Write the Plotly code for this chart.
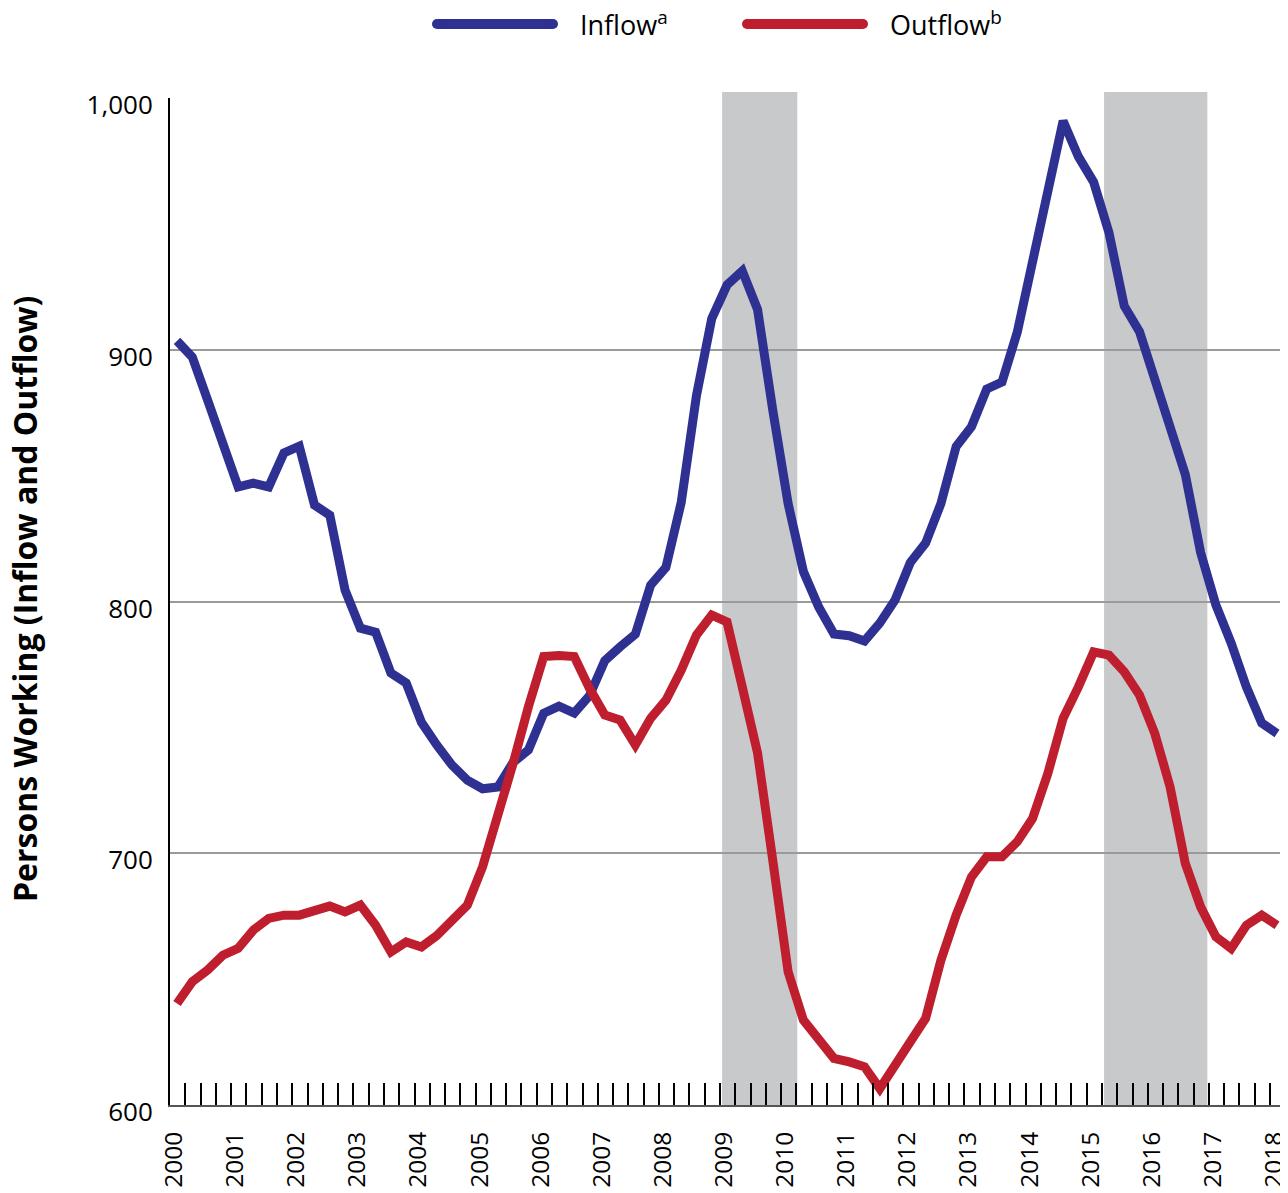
import plotly.graph_objects as go

# Quarterly observations, 2000 Q1 .. 2018 Q1
start_year = 2000
step = 0.25
inflow = [903.5, 897.1, 880, 863, 845.5, 847, 845.5, 859, 861.7, 838.3, 834.3, 804.5, 789.4, 787.8,
          771.6, 767.6, 752, 743, 735, 729, 725.6, 726.3, 736.1, 741, 755.6, 758.4, 755.7, 762.6,
          776.5, 782, 787, 806.5, 813.5, 839.3, 881.8, 912.4, 925.7, 931.3, 916, 875.8, 838.9,
          811.9, 797.8, 787.1, 786.4, 784.3, 791.4, 800.6, 815.5, 823.2, 838.9, 861.6, 869.4,
          884.4, 887.2, 907, 934, 961, 990.9, 976.7, 966.6, 946.5, 917.4, 907.2, 888, 869.5,
          850.4, 819.5, 798.6, 783.5, 766, 751.7, 747.6]
outflow = [640.3, 649, 653.6, 659.5, 662.2, 669.5, 674.1, 675.4, 675.4, 677.3, 679, 676.7, 679.4,
           671.4, 660.8, 664.8, 662.8, 667.3, 673.4, 679.4, 694.6, 714.5, 735.7, 758.2, 778.1,
           778.5, 778.1, 765.5, 754.9, 752.9, 743, 753.6, 760.8, 772.7, 786.7, 794.6, 791.9, 766,
           739.8, 697, 652.9, 633.7, 625.7, 618.5, 617.1, 615.2, 606.5, 615.2, 625.1, 634.4,
           657.5, 675.4, 690.6, 698.6, 698.6, 704.6, 713.8, 731.7, 753.6, 766.1, 780, 778.7,
           772.1, 762.8, 747.6, 726.4, 695.9, 678.7, 666.8, 662.2, 671.4, 675.4, 671.4]
x_vals = [start_year + step * i for i in range(len(inflow))]

year_ticks = list(range(2000, 2019))
y_ticks = [600, 700, 800, 900, 1000]
recessions = [(2008.92, 2010.15), (2015.17, 2016.86)]
series_names = ["Inflow<sup>a</sup>", "Outflow<sup>b</sup>"]
colors = ["#2e3192", "#be1e2d"]

X_RANGE = [1999.885, 2018.18]
Y_RANGE = [600, 1000]
FONT = "Open Sans"

# page offset (browser body margin) compensation
OFF = 8
W, H = 1118, 1007
L_PAGE, T_PAGE = 170, 98          # plot-area origin in page pixels
L, T = L_PAGE - OFF, T_PAGE - OFF  # figure margins
FIG_W, FIG_H = 1288 - OFF, 1193 - OFF

fig = go.Figure()
for vals, col in zip([inflow, outflow], colors):
    fig.add_trace(go.Scatter(x=x_vals, y=vals, mode="lines",
                             line=dict(color=col, width=9), showlegend=False,
                             hoverinfo="skip"))

def xp(v):
    return (v - X_RANGE[0]) / (X_RANGE[1] - X_RANGE[0])

def px_x(p):   # page pixel -> paper x
    return (p - L_PAGE) / W

def px_y(p):   # page pixel -> paper y
    return (T_PAGE + H - p) / H

shapes = []
for a, b in recessions:
    shapes.append(dict(type="rect", xref="paper", yref="paper", x0=xp(a), x1=xp(b),
                       y0=0, y1=1.006, fillcolor="#c8c9cb", line=dict(width=0), layer="below"))

# manual legend
leg = [(437, 553, 578), (747, 863, 888)]
annotations = []
for (a, b, tx), name, col in zip(leg, series_names, colors):
    shapes.append(dict(type="line", xref="paper", yref="paper", x0=px_x(a), x1=px_x(b),
                       y0=px_y(24), y1=px_y(24), line=dict(color=col, width=10)))
    for cx in (a, b):
        shapes.append(dict(type="circle", xref="paper", yref="paper",
                           x0=px_x(cx - 5), x1=px_x(cx + 5), y0=px_y(29), y1=px_y(19),
                           fillcolor=col, line=dict(width=0)))
    annotations.append(dict(xref="paper", yref="paper", x=px_x(tx), y=px_y(23),
                            xanchor="left", yanchor="middle", showarrow=False,
                            text=name, font=dict(family=FONT, size=27, color="black")))

annotations.append(dict(xref="paper", yref="paper", x=px_x(24), y=px_y(599), textangle=-90,
                        xanchor="center", yanchor="middle", showarrow=False,
                        text="<b>Persons Working (Inflow and Outflow)</b>",
                        font=dict(family=FONT, size=32, color="black")))

tick_positions = [2000.136 + 0.25 * k for k in range(72)]

fig.update_layout(
    width=FIG_W, height=FIG_H,
    margin=dict(l=L, r=FIG_W - L - W, t=T, b=FIG_H - T - H, autoexpand=False),
    paper_bgcolor="white", plot_bgcolor="white",
    shapes=shapes, annotations=annotations,
    xaxis=dict(range=X_RANGE, tickvals=year_ticks, ticktext=[str(y) for y in year_ticks],
               tickangle=-90, ticks="", showgrid=False, zeroline=False, automargin=False,
               showline=True, linecolor="#555555", linewidth=2,
               tickfont=dict(family=FONT, size=24.5, color="black"),
               ticklabelstandoff=15, ticklabelshift=-3, ticklabeloverflow="allow",
               minor=dict(tickmode="array", tickvals=tick_positions, ticks="inside",
                          ticklen=22, tickwidth=2, tickcolor="black", showgrid=False)),
    yaxis=dict(range=Y_RANGE, tickvals=y_ticks, tickformat=",", ticks="",
               showgrid=True, gridcolor="#9a9a9a", gridwidth=1.5, zeroline=False,
               showline=True, linecolor="black", linewidth=2, automargin=False,
               tickfont=dict(family=FONT, size=26, color="black"),
               ticklabelstandoff=10, ticklabelshift=7, ticklabeloverflow="allow"),
    showlegend=False,
)

fig.write_html("out.html")
